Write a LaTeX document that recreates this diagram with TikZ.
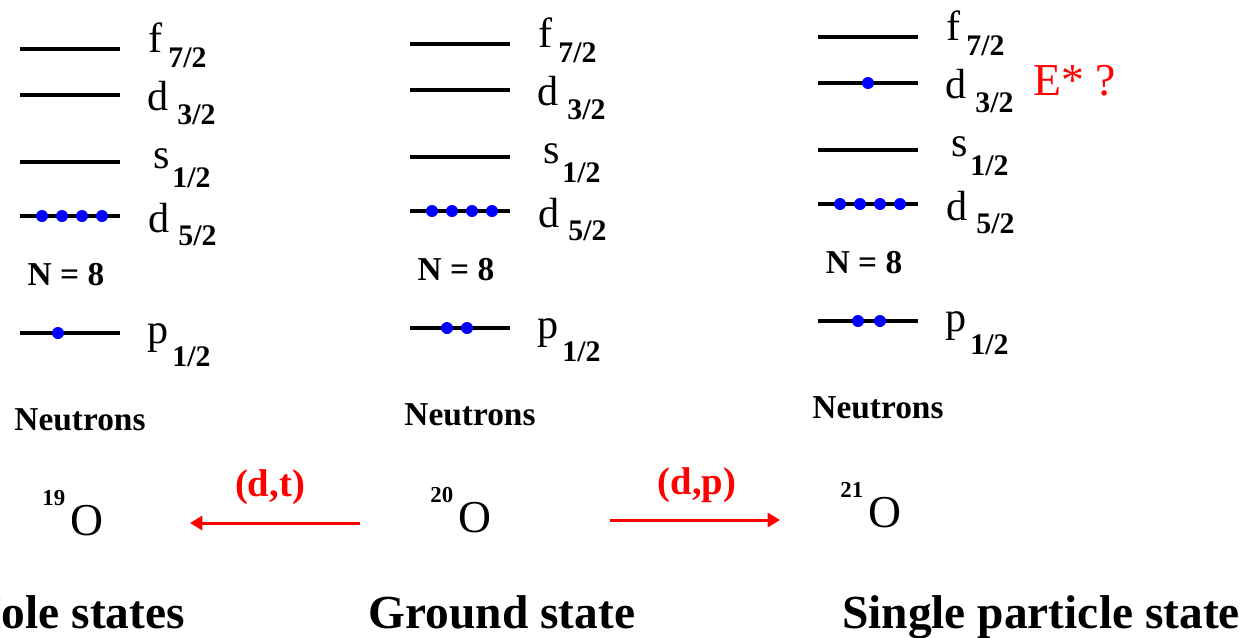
\documentclass[tikz,border=0pt]{standalone}
\usepackage{fontspec}
\setmainfont{Liberation Serif}
\usepackage{tikz}
\usetikzlibrary{arrows.meta}
\tikzset{
  olev/.style={draw=black, line width=1.8pt},
  onuc/.style={circle, fill=\oNucCol, inner sep=0pt, minimum size=2.4mm},
  olet/.style={anchor=base west, inner sep=0pt, font=\fontsize{24}{24}\selectfont},
  osub/.style={anchor=base west, inner sep=0pt, font=\fontsize{17}{17}\selectfont\bfseries},
  oshell/.style={anchor=base, inner sep=0pt, font=\fontsize{19}{19}\selectfont\bfseries},
  ohead/.style={anchor=base, inner sep=0pt, font=\fontsize{19}{19}\selectfont\bfseries},
  oiso/.style={anchor=base west, inner sep=0pt, font=\fontsize{26}{26}\selectfont},
  orx/.style={draw=\oRxCol, line width=1.7pt, -{Triangle[length=7pt,width=8pt]}},
  orxlab/.style={anchor=base, inner sep=0pt, text=\oRxCol, font=\fontsize{22}{22}\selectfont\bfseries},
  otitle/.style={anchor=base, inner sep=0pt, font=\fontsize{27}{27}\selectfont\bfseries},
}
\newcommand{\oNucCol}{blue}
\newcommand{\oRxCol}{red}
\newcommand{\oIso}[1]{\raisebox{17pt}{\fontsize{13}{13}\selectfont\bfseries #1}\hspace{3pt}O}

\begin{document}
\begin{tikzpicture}[x=0.02cm, y=-0.02cm]
  \useasboundingbox (0,0) rectangle (1254,637);
  % three level schemes, one per isotope
  \foreach \c/\dx/\dy in {1/0/0, 2/390/-5, 3/798/-12} {
    \begin{scope}[shift={(\dx,\dy)}]
      \foreach \lv/\y/\lt/\lx/\ly/\n/\sx/\sy in {f/49/f/148/52/7/168/67,
          dA/95/d/147/110/3/177/124, s/162/s/153/168/1/172/187,
          dB/216/d/148/232/5/178/245, p/333/p/147/343/1/172/366} {
        \coordinate (\lv\c w) at (20,\y);
        \coordinate (\lv\c e) at (120,\y);
        \draw[olev] (\lv\c w) -- (\lv\c e);
        \node[olet] (\lv\c l) at (\lx,\ly) {\lt};
        \node[osub] (\lv\c s) at (\sx,\sy) {\n/2};
      }
      \node[oshell] (N\c) at (66,285) {N = 8};
      \node[ohead] (neu\c) at (80,430) {Neutrons};
      \foreach \x in {42,62,82,102}
        \node[onuc] (nd\c\x) at (\x,216) {};
    \end{scope}
  }
  % odd neutrons
  \node[onuc] (np1) at (58,333) {};
  \node[onuc] (np2a) at (447,328) {};
  \node[onuc] (np2b) at (467,328) {};
  \node[onuc] (np3a) at (858,321) {};
  \node[onuc] (np3b) at (880,321) {};
  \node[onuc] (nd3x) at (868,83) {};
  \node[anchor=base west, inner sep=0pt, text=\oRxCol,
        font=\fontsize{26}{26}\selectfont] (Estar) at (1033,95) {E* ?};
  % isotopes and reactions
  \node[oiso] (O19) at (42,535) {\oIso{19}};
  \node[oiso] (O20) at (430,532) {\oIso{20}};
  \node[oiso] (O21) at (840,527) {\oIso{21}};
  \coordinate (dtS) at (360,523);
  \coordinate (dtE) at (190,523);
  \coordinate (dpS) at (610,520);
  \coordinate (dpE) at (780,520);
  \draw[orx] (dtS) -- (dtE);
  \draw[orx] (dpS) -- (dpE);
  \node[orxlab] (dt) at (270,496) {(d,t)};
  \node[orxlab] (dp) at (697,494) {(d,p)};
  \node[otitle] (tHole) at (75,628) {Hole states};
  \node[otitle] (tGround) at (502,628) {Ground state};
  \node[otitle] (tSingle) at (1041,628) {Single particle state};
\end{tikzpicture}
\end{document}
